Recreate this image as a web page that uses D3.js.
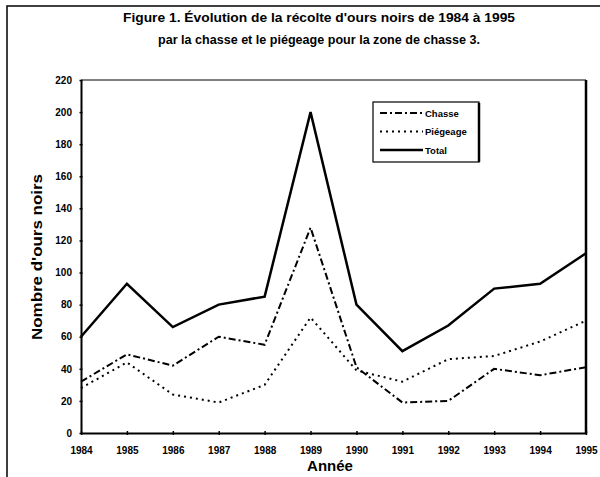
<!DOCTYPE html>
<html>
<head>
<meta charset="utf-8">
<script src="https://cdn.jsdelivr.net/npm/d3@7"></script>
<style>
  body { margin: 0; background: #fff; }
  svg text { font-family: "Liberation Sans", Arial, sans-serif; font-weight: bold; fill: #000; }
</style>
</head>
<body>
<div id="chart"></div>
<script>
var years = [1984, 1985, 1986, 1987, 1988, 1989, 1990, 1991, 1992, 1993, 1994, 1995];
var chasse = [32, 49, 42, 60, 55, 128, 41, 19, 20, 40, 36, 41];
var piegeage = [28, 44, 24, 19, 30, 72, 39, 32, 46, 48, 57, 70];
var total = [60, 93, 66, 80, 85, 200, 80, 51, 67, 90, 93, 112];
var yTicks = [0, 20, 40, 60, 80, 100, 120, 140, 160, 180, 200, 220];

var width = 600, height = 477;
var margin = {top: 80, right: 14, bottom: 44, left: 81};

var svg = d3.select("#chart")
            .append("svg")
            .attr("width", width)
            .attr("height", height);

// outer frame (scan border)
svg.append("path")
   .attr("d", "M7,477 L7,6 L600,6")
   .attr("fill", "none")
   .attr("stroke", "#000")
   .attr("stroke-width", 1.5);

/***** Title ******/
svg.append("text")
   .attr("x", 319).attr("y", 22)
   .attr("text-anchor", "middle")
   .style("font-size", "13.5px")
   .attr("textLength", 392)
   .attr("lengthAdjust", "spacingAndGlyphs")
   .text("Figure 1. Évolution de la récolte d'ours noirs de 1984 à 1995");

svg.append("text")
   .attr("x", 319).attr("y", 44)
   .attr("text-anchor", "middle")
   .style("font-size", "13.5px")
   .attr("textLength", 322)
   .attr("lengthAdjust", "spacingAndGlyphs")
   .text("par la chasse et le piégeage pour la zone de chasse 3.");

var x = d3.scaleLinear()
          .domain([1984, 1995])
          .range([margin.left, width - margin.right]);

var y = d3.scaleLinear()
          .domain([0, 220])
          .range([height - margin.bottom, margin.top]);

// plot frame: top and right edge
svg.append("line")
   .attr("x1", x(1984)).attr("x2", x(1995))
   .attr("y1", y(220)).attr("y2", y(220))
   .attr("stroke", "#000").attr("stroke-width", 1);
svg.append("line")
   .attr("x1", x(1995)).attr("x2", x(1995))
   .attr("y1", y(220)).attr("y2", y(0))
   .attr("stroke", "#000").attr("stroke-width", 2.5);

/***** Axes ******/
var gx = svg.append("g")
   .attr("transform", "translate(0," + y(0) + ")")
   .call(d3.axisBottom(x).tickValues(years).tickFormat(d3.format("d"))
         .tickSizeInner(-4).tickSizeOuter(0).tickPadding(14));
gx.select(".domain").attr("stroke-width", 2);
gx.selectAll(".tick line").attr("stroke-width", 1.5).attr("transform", "translate(0,2)");
gx.selectAll(".tick text").style("font-size", "10px").style("font-family", "'Liberation Sans Narrow', 'Liberation Sans', sans-serif");

var gy = svg.append("g")
   .attr("transform", "translate(" + x(1984) + ",0)")
   .call(d3.axisLeft(y).tickValues(yTicks).tickSizeInner(3).tickSizeOuter(0).tickPadding(6));
gy.select(".domain").attr("stroke-width", 2);
gy.selectAll(".tick line").attr("stroke-width", 1.5).attr("transform", "translate(1.5,0)");
gy.selectAll(".tick text").style("font-size", "10px").style("font-family", "'Liberation Sans Narrow', 'Liberation Sans', sans-serif");

/***** Axis titles ******/
svg.append("text")
   .attr("transform", "translate(42,257) rotate(-90)")
   .attr("text-anchor", "middle")
   .style("font-size", "15px")
   .attr("textLength", 166)
   .attr("lengthAdjust", "spacingAndGlyphs")
   .text("Nombre d'ours noirs");

svg.append("text")
   .attr("x", 330).attr("y", 471)
   .attr("text-anchor", "middle")
   .style("font-size", "15px")
   .text("Année");

/***** Lines ******/
var series = [
  {name: "Chasse", values: chasse, dash: "7,3,2,3", w: 2},
  {name: "Piégeage", values: piegeage, dash: "2,4", w: 2},
  {name: "Total", values: total, dash: null, w: 2.5}
];

var line = d3.line()
             .x(function(d, i) { return x(years[i]); })
             .y(function(d) { return y(d); });

svg.selectAll(".serie")
   .data(series)
   .enter()
   .append("path")
   .attr("class", "serie")
   .attr("d", function(d) { return line(d.values); })
   .attr("fill", "none")
   .attr("stroke", "#000")
   .attr("stroke-width", function(d) { return d.w; })
   .attr("stroke-dasharray", function(d) { return d.dash; });

/***** Legend ******/
var legend = svg.append("g").attr("transform", "translate(373,102)");
legend.append("rect")
      .attr("x", 0).attr("y", 0)
      .attr("width", 106).attr("height", 60)
      .attr("fill", "#fff").attr("stroke", "#000").attr("stroke-width", 1.2);
legend.append("line")
      .attr("x1", 106).attr("x2", 106).attr("y1", 1).attr("y2", 60)
      .attr("stroke", "#000").attr("stroke-width", 2.5);

var item = legend.selectAll(".item")
      .data(series)
      .enter()
      .append("g")
      .attr("class", "item")
      .attr("transform", function(d, i) { return "translate(0," + (11 + i * 18.5) + ")"; });

item.append("line")
    .attr("x1", 7).attr("x2", 50).attr("y1", 0).attr("y2", 0)
    .attr("stroke", "#000")
    .attr("stroke-width", function(d) { return d.w; })
    .attr("stroke-dasharray", function(d) { return d.dash; });

item.append("text")
    .attr("x", 52).attr("y", 3.5)
    .style("font-size", "9.5px")
    .text(function(d) { return d.name; });
</script>
</body>
</html>
